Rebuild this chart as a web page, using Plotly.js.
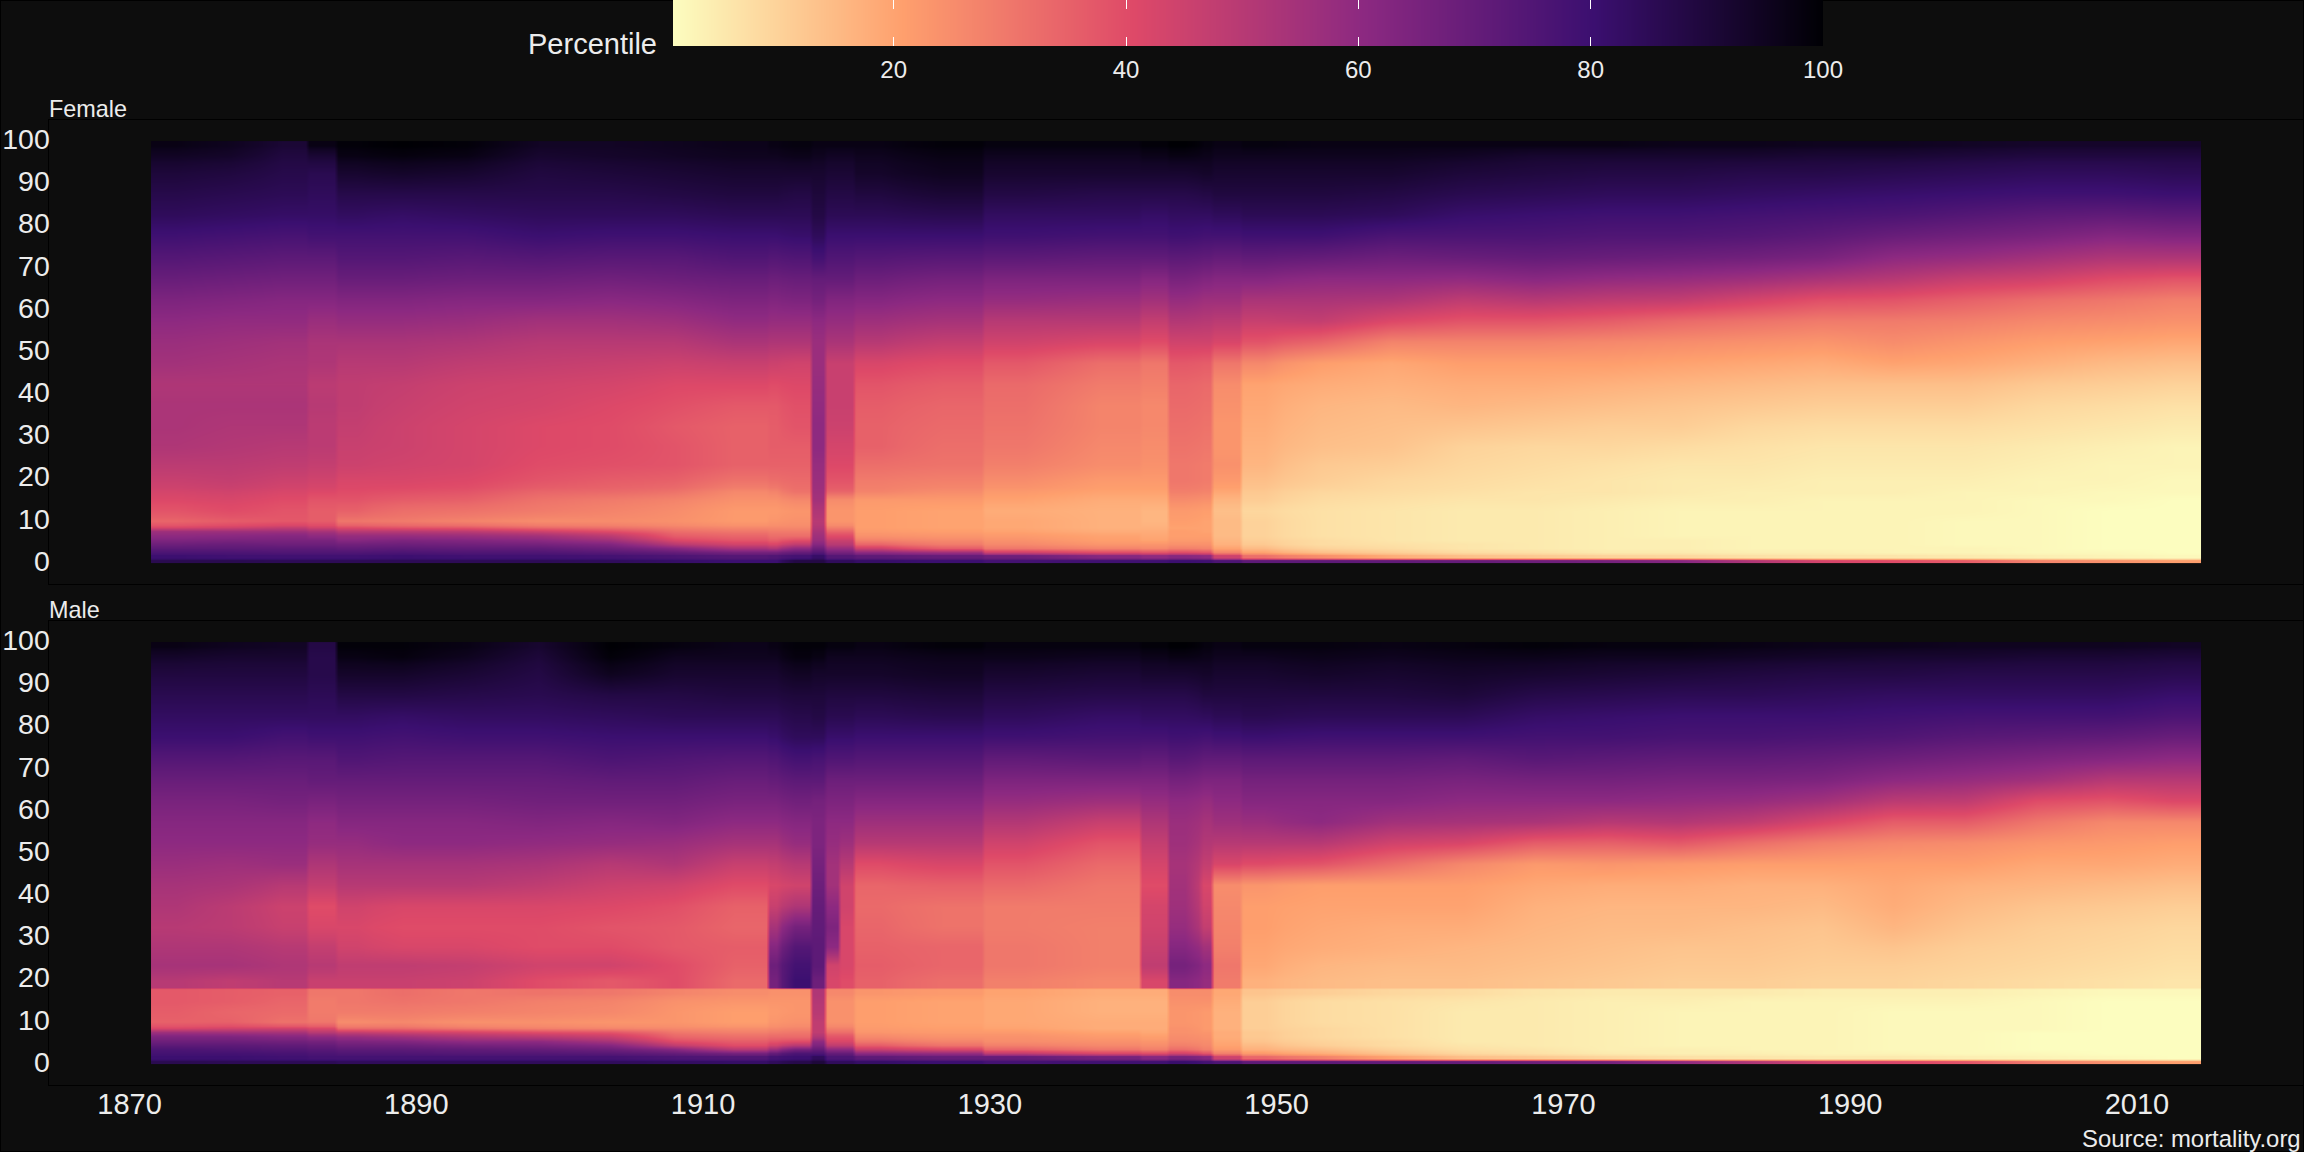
<!DOCTYPE html>
<html><head><meta charset="utf-8">
<script src="https://cdn.plot.ly/plotly-3.0.1.min.js"></script>
<style>html,body{margin:0;padding:0;background:#0d0d0d}</style></head>
<body><div id="chart" style="width:2304px;height:1152px"></div>
<script>
// Year bands (edges); one age profile per band
const yearEdges = [1871.5,1875,1879,1882.4,1884.4,1887,1891,1896,1901,1906,1910,1914.5,1915.5,1917.5,1918.5,1919.5,1920.5,1924,1929.5,1935,1940.5,1942.4,1944.5,1945.5,1947.5,1950.5,1955.5,1960.5,1965.5,1970.5,1975.5,1980.5,1985.5,1990.5,1995.5,2000.5,2005.5,2010.5,2014.5];
const sharpYears = [1882.4,1884.4,1914.5,1917.5,1918.5,1919.5,1920.5,1929.5,1940.5,1942.4,1945.5,1947.5];
const ageEdges = [-0.5,0.5,1.5,2.5,3.5,4.5,5.5,6.5,7.5,8.5,10.5,13.5,15.5,17.5,21,25,29.5,34.5,39.5,44.5,49.5,54.5,59.5,64.5,69.5,74.5,79.5,84.5,89.5,94.5,97.5,99.5];
const sharpAgesFemale = [0.5];
const sharpAgesMale = [0.5,17.5];

const femalePercentile = [
[86,80,76,72,68,64,60,56,42,34,38,41,43,46,49,52,53,53,52,55,57,60,64,69,74,79,84,87,90,94,97],
[86,79,76,72,69,65,61,56,44,36,40,42,44,47,49,51,52,53,52,54,56,59,63,68,73,78,83,86,89,93,95],
[85,79,75,72,68,65,62,56,47,37,38,40,42,45,48,50,52,53,52,53,55,59,62,67,72,77,82,85,87,89,91],
[85,79,75,72,68,65,60,54,44,36,36,38,41,44,47,49,49,50,49,52,53,57,62,67,72,78,82,84,86,91,97],
[85,79,75,71,67,62,58,50,40,30,35,38,40,42,45,46,47,48,48,50,53,58,63,69,74,78,83,87,92,97,99],
[85,80,76,72,68,64,58,50,38,29,32,36,39,42,44,45,45,46,47,50,53,58,63,69,74,78,82,87,93,98,100],
[85,79,75,71,67,63,57,49,37,27,31,35,38,41,43,43,43,44,45,48,52,57,62,68,73,78,83,87,92,97,99],
[85,79,75,71,66,61,55,45,33,25,29,31,34,38,40,41,41,43,44,47,50,55,62,68,74,80,84,87,89,92,94],
[84,78,73,68,63,56,49,40,31,25,27,29,33,36,39,40,40,41,43,46,50,55,61,67,73,79,84,87,90,93,94],
[82,76,70,62,50,42,36,32,28,24,25,27,31,35,38,38,37,39,41,45,50,56,62,68,73,79,84,88,91,94,95],
[80,74,66,54,44,38,34,30,26,22,22,24,26,31,35,35,35,37,41,46,53,59,64,69,75,80,85,89,92,95,96],
[80,75,66,52,42,36,32,29,26,23,22,24,27,32,35,36,36,37,40,45,52,58,63,68,74,80,85,89,92,95,97],
[88,78,70,60,48,40,32,29,26,24,23,26,31,33,35,36,38,39,41,44,52,58,64,69,75,81,85,88,92,96,98],
[88,82,74,68,62,58,56,54,52,50,52,55,56,57,58,60,60,59,58,57,57,60,66,70,78,84,88,90,92,95,97],
[84,74,66,58,50,46,40,34,28,23,23,25,34,38,41,43,45,46,46,46,53,58,63,70,75,80,85,88,91,94,97],
[84,74,66,58,50,46,40,34,28,23,23,25,34,38,41,43,45,46,46,46,53,58,63,70,75,80,85,88,91,94,97],
[82,72,60,45,34,28,24,22,21,21,21,22,27,29,32,35,35,36,38,42,50,56,62,68,74,80,85,89,93,95,97],
[80,70,56,36,29,26,23,21,20,20,20,22,25,28,31,32,33,34,36,40,47,54,60,66,73,80,86,91,95,97,99],
[78,68,45,30,26,24,22,20,19,19,18,20,22,25,28,30,31,32,33,37,44,50,58,64,72,79,83,88,92,95,98],
[79,62,40,27,23,21,20,18,17,17,17,18,20,22,25,26,27,27,29,32,42,50,57,64,71,78,83,87,92,95,98],
[79,60,38,26,23,20,19,18,17,16,16,18,20,22,24,25,26,26,28,30,40,47,55,62,71,78,82,87,92,96,99],
[80,62,40,28,24,22,21,21,20,21,22,25,28,30,30,31,32,33,34,37,44,51,58,65,72,79,83,87,92,97,100],
[79,60,38,27,24,22,21,20,20,20,21,24,27,29,29,30,31,32,33,36,44,50,56,63,71,78,83,88,93,96,98],
[76,45,27,20,17,16,15,15,15,15,14,16,19,22,24,23,23,24,25,30,42,49,56,62,70,78,84,89,92,95,97],
[72,32,20,15,12,11,10,10,10,10,9,11,12,14,16,17,18,19,20,26,38,46,53,62,71,79,85,89,92,95,98],
[72,25,14,10,8,8,7,7,7,7,7,8,9,11,12,14,15,16,18,21,34,47,53,60,70,79,85,89,92,95,97],
[71,18,11,8,7,6,6,6,6,6,6,7,8,9,11,13,14,15,17,19,27,41,52,60,68,76,84,88,92,95,97],
[70,14,8,6,6,5,5,5,5,5,5,6,7,8,9,10,13,16,18,21,27,38,48,59,69,76,81,86,90,94,97],
[68,12,7,5,5,5,5,5,5,5,5,6,6,7,8,9,12,15,18,21,27,38,50,61,70,76,80,85,89,92,97],
[66,10,5,4,4,4,4,4,4,4,4,5,6,6,7,9,11,14,17,21,26,36,48,59,69,75,79,84,88,92,97],
[62,9,5,4,4,4,3,3,3,3,3,4,5,5,6,8,11,13,16,20,25,33,47,58,68,75,79,84,88,92,96],
[52,7,4,3,3,3,3,3,3,3,3,4,4,5,6,7,9,12,15,19,24,31,43,56,67,74,78,83,87,92,96],
[43,6,4,3,3,3,3,3,3,3,3,3,4,4,5,6,8,11,14,18,23,29,39,53,65,72,77,82,87,91,95],
[40,6,3,3,3,3,3,3,3,3,3,3,4,4,5,6,8,11,14,20,25,29,38,50,60,69,76,81,86,91,95],
[36,5,3,3,2,2,2,2,2,2,3,3,3,4,5,6,8,11,14,19,23,28,35,46,58,67,74,80,85,90,94],
[27,4,2,2,2,2,2,2,2,2,2,2,3,3,4,5,7,9,12,17,21,26,32,44,55,65,72,79,84,89,93],
[24,3,2,1,1,1,1,1,1,1,1,2,2,3,3,4,6,8,11,15,20,25,30,40,52,62,71,79,84,89,93],
[21,2,1,1,1,1,1,1,1,1,1,1,2,2,3,3,5,7,10,14,19,24,28,38,52,63,72,80,85,89,93]
];

const malePercentile = [
[86,80,78,76,72,68,64,56,42,35,36,37,37,50,54,52,50,52,54,57,60,62,65,69,74,80,83,86,89,93,97],
[85,80,78,75,72,68,64,55,44,35,34,36,36,48,54,52,49,49,53,56,60,62,65,69,74,80,83,86,89,92,95],
[85,79,77,74,71,67,62,54,44,31,33,34,35,50,52,50,46,45,50,57,60,62,66,69,73,78,83,86,89,92,94],
[85,78,76,73,70,66,60,50,42,30,29,29,30,46,50,47,42,40,47,52,58,60,65,70,73,79,83,85,87,87,88],
[84,78,75,72,68,64,58,47,33,25,29,30,30,46,48,44,42,44,50,54,58,62,66,70,75,79,83,88,93,97,99],
[84,78,75,72,68,63,56,45,33,26,29,31,32,46,48,42,40,42,50,54,60,62,66,70,74,78,82,88,93,98,99],
[84,78,74,71,66,60,52,43,30,24,28,30,30,45,47,42,40,42,50,54,60,62,66,70,74,79,83,87,91,95,97],
[84,78,74,70,65,60,50,40,28,24,27,28,31,40,44,40,40,42,48,53,59,63,67,70,74,79,83,86,88,90,92],
[84,78,73,68,62,54,46,38,27,23,26,27,30,37,44,40,38,41,45,50,58,62,67,71,76,80,84,88,95,99,100],
[83,76,70,62,48,40,34,30,26,23,23,24,27,40,40,37,37,39,44,52,57,63,67,71,75,80,85,88,92,95,98],
[82,75,66,50,40,36,32,28,25,21,21,23,25,33,35,36,34,35,40,46,54,60,65,69,74,80,85,89,92,95,96],
[84,78,70,56,44,38,33,29,26,23,22,23,24,66,68,62,54,46,42,47,54,60,65,70,75,81,85,89,92,95,97],
[87,80,76,66,50,40,33,30,27,24,23,23,24,80,78,74,66,52,44,50,58,62,67,72,78,84,87,90,94,98,99],
[90,84,76,70,64,60,52,48,48,48,50,51,52,68,72,72,71,70,68,66,64,64,66,72,77,84,88,90,93,97,99],
[84,76,70,60,48,42,38,32,28,24,24,24,26,42,44,60,64,60,55,55,58,60,64,68,75,81,86,89,93,95,98],
[84,76,70,60,48,42,38,32,28,24,24,24,26,40,42,42,42,44,44,50,56,60,64,68,75,81,86,89,93,95,98],
[82,72,60,46,36,30,26,23,22,21,21,21,23,35,36,35,34,33,34,40,50,56,62,68,74,80,85,89,93,95,97],
[80,70,58,42,31,27,24,22,21,20,20,20,22,32,34,34,31,31,35,42,50,56,62,68,74,80,86,90,94,96,99],
[78,70,48,34,28,25,24,22,20,19,19,19,20,28,30,30,29,29,33,38,44,51,58,64,71,79,84,88,92,96,98],
[79,66,42,30,26,24,22,20,18,18,17,17,18,26,28,28,28,29,30,33,38,46,56,64,72,78,82,87,91,95,98],
[79,62,40,28,25,23,21,19,18,18,17,17,18,42,48,46,44,43,40,43,47,52,58,64,71,78,83,87,92,96,99],
[81,66,44,32,28,26,25,24,24,23,23,24,25,62,66,62,58,56,55,54,56,57,60,66,73,79,83,87,92,97,100],
[78,62,38,28,26,25,24,23,22,22,22,24,25,58,60,55,47,44,42,47,51,54,58,64,71,78,84,89,93,96,98],
[76,45,28,22,20,19,18,18,17,17,17,18,19,29,30,28,27,26,25,42,50,56,60,64,71,79,85,89,92,95,97],
[72,34,22,17,15,13,12,12,11,11,11,11,13,17,19,20,21,21,23,40,50,57,62,66,72,80,86,89,92,95,98],
[72,28,18,14,11,10,9,9,9,8,8,8,11,15,16,18,19,20,21,38,50,60,62,66,72,79,85,89,93,96,98],
[71,20,13,10,8,8,7,7,7,7,7,7,9,14,15,17,18,20,21,32,44,55,62,66,72,79,85,89,92,95,97],
[70,14,9,7,6,5,5,5,5,5,5,6,8,14,15,16,18,20,21,26,42,54,60,65,71,79,85,90,93,96,98],
[68,12,7,6,5,5,5,5,5,5,5,5,6,13,14,15,16,17,19,22,36,53,60,66,73,78,82,87,92,96,99],
[66,9,5,4,4,4,4,4,4,4,4,4,5,12,13,14,15,16,18,23,35,50,60,66,72,78,81,86,91,95,98],
[60,7,4,4,3,3,3,3,3,3,3,4,5,11,12,13,15,16,18,22,37,51,59,65,71,77,80,85,90,95,98],
[52,6,4,3,3,3,3,3,3,3,3,3,5,11,12,13,14,16,17,21,32,48,58,65,71,77,80,85,89,94,97],
[44,5,3,3,3,3,3,3,3,3,3,3,4,10,11,12,13,15,17,21,28,42,55,64,70,76,80,84,88,93,96],
[42,5,3,2,2,2,2,2,2,2,2,3,4,10,11,13,16,18,19,21,26,36,49,60,68,75,79,83,88,92,96],
[38,4,2,2,2,2,2,2,2,2,2,3,4,9,10,11,13,15,17,21,25,36,48,58,66,73,78,83,87,92,95],
[29,3,2,1,1,1,1,1,2,2,2,2,3,8,9,10,11,13,16,19,23,30,40,55,64,72,78,83,87,91,95],
[24,2,1,1,1,1,1,1,1,1,1,1,2,7,8,9,10,12,15,19,22,26,38,50,62,71,78,83,87,91,95],
[21,1,1,1,1,1,1,1,1,1,1,1,2,6,7,8,9,11,14,18,21,26,41,50,60,69,76,81,86,90,94]
];

const legendValues = [1,2,3,4,5,6,7,8,9,10,11,12,13,14,15,16,17,18,19,20,21,22,23,24,25,26,27,28,29,30,31,32,33,34,35,36,37,38,39,40,41,42,43,44,45,46,47,48,49,50,51,52,53,54,55,56,57,58,59,60,61,62,63,64,65,66,67,68,69,70,71,72,73,74,75,76,77,78,79,80,81,82,83,84,85,86,87,88,89,90,91,92,93,94,95,96,97,98,99,100];
const legendTicks = [20,40,60,80,100];
const yearTicks = [1870,1890,1910,1930,1950,1970,1990,2010];
const ageTicks = [0,10,20,30,40,50,60,70,80,90,100];

// six-step magma, reversed (light at low percentile)
const magmaStops = ['#fcfdbf','#fe9f6d','#de4968','#8c2981','#3b0f70','#000004'];
const colorscale = magmaStops.map((c,i)=>[i/(magmaStops.length-1),c]);

// A band boundary listed as sharp gets two thin copies of its neighbours, so smoothing stays off that edge
function expand(edges, sharp, d){
  const out=[edges[0]], idx=[];
  for(let k=0;k<edges.length-1;k++){
    const lo=edges[k], hi=edges[k+1];
    if(sharp.includes(lo)){ out.push(lo+d); idx.push(k); }
    if(sharp.includes(hi)){ out.push(hi-d); idx.push(k); }
    out.push(hi); idx.push(k);
  }
  return {edges:out, idx};
}
const X = expand(yearEdges, sharpYears, 0.25);
const YF = expand(ageEdges, sharpAgesFemale, 0.5);
const YM = expand(ageEdges, sharpAgesMale, 0.5);
function grid(profiles, Y){
  if(profiles.length!==yearEdges.length-1) throw new Error('bands '+profiles.length);
  profiles.forEach((p,i)=>{ if(p.length!==ageEdges.length-1) throw new Error('row '+i+' len '+p.length); });
  return Y.idx.map(a=>X.idx.map(c=>profiles[c][a]));
}
const W=2304,H=1152, bg='#0d0d0d', txt='#ececec', font='Liberation Sans';
const common={type:'heatmap',colorscale,zmin:1,zmax:100,showscale:false,zsmooth:'best',hoverinfo:'skip'};
const data=[
 {...common,x:X.edges,y:YF.edges,z:grid(femalePercentile,YF),xaxis:'x',yaxis:'y'},
 {...common,x:X.edges,y:YM.edges,z:grid(malePercentile,YM),xaxis:'x2',yaxis:'y2'},
 {...common,x:legendValues,y:[0,1],z:[legendValues,legendValues],xaxis:'x3',yaxis:'y3'}
];
const xRange=[1864.35,2021.65], yRange=[-5.5,104.5];
const panelX={range:xRange,domain:[48.5/W,1],showgrid:false,zeroline:false,showline:true,mirror:true,linecolor:'#000',linewidth:1,ticks:'',tickmode:'array',tickvals:yearTicks,tickfont:{family:font,size:29,color:txt},ticklabelstandoff:-7};
const panelY={range:yRange,showgrid:false,zeroline:false,showline:true,mirror:true,linecolor:'#000',linewidth:1,ticks:'',tickmode:'array',tickvals:ageTicks,tickfont:{family:font,size:28.5,color:txt},ticklabelstandoff:-8};
const note=(text,x,y,xanchor,size)=>({text,x:x/W,y:1-y/H,xref:'paper',yref:'paper',xanchor,yanchor:'middle',showarrow:false,font:{family:font,size,color:txt},borderpad:0});
const layout={
 width:W,height:H,paper_bgcolor:bg,plot_bgcolor:bg,margin:{l:0,r:0,t:0,b:0,pad:0},showlegend:false,
 xaxis:{...panelX,anchor:'y',showticklabels:false},
 yaxis:{...panelY,anchor:'x',domain:[1-584/H,1-120/H]},
 xaxis2:{...panelX,anchor:'y2'},
 yaxis2:{...panelY,anchor:'x2',domain:[1-1085/H,1-621/H]},
 xaxis3:{range:[1,100],domain:[673/W,1823/W],anchor:'y3',showgrid:false,zeroline:false,showline:false,ticks:'inside',ticklen:9,tickwidth:1,tickcolor:'#fff',mirror:'ticks',tickmode:'array',tickvals:legendTicks,tickfont:{family:font,size:24,color:txt},ticklabelstandoff:7},
 yaxis3:{range:[0,1],domain:[1-46/H,1],anchor:'x3',showgrid:false,zeroline:false,showticklabels:false,ticks:''},
 annotations:[
  note('Percentile',658,44,'right',29),
  note('Female',48,109,'left',23.4),
  note('Male',48,610,'left',23.4),
  note('Source: mortality.org',2302,1138,'right',23.9)
 ],
 shapes:[{type:'rect',xref:'paper',yref:'paper',x0:0,x1:1,y0:0,y1:1,line:{color:'#000',width:2},fillcolor:'rgba(0,0,0,0)',layer:'below'}]
};
Plotly.newPlot('chart',data,layout,{displayModeBar:false,staticPlot:true});
</script></body></html>
